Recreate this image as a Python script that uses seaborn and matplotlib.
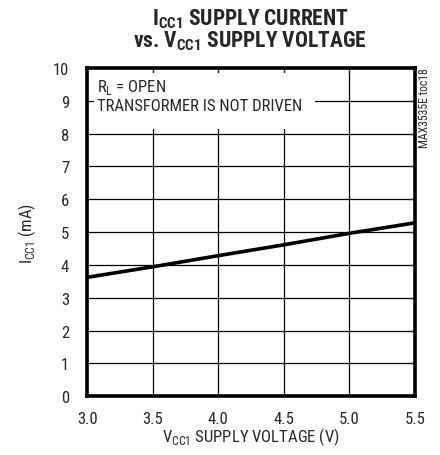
import numpy as np
import pandas as pd
import matplotlib
matplotlib.use("Agg")
import matplotlib.pyplot as plt
import seaborn as sns
from matplotlib import font_manager
from matplotlib.patches import Rectangle

# data
vcc = [3.0, 3.5, 4.0, 4.5, 5.0, 5.5]
icc = [3.62, 3.94, 4.28, 4.61, 4.96, 5.28]
x_ticks = [3.0, 3.5, 4.0, 4.5, 5.0, 5.5]
y_ticks = [0, 1, 2, 3, 4, 5, 6, 7, 8, 9, 10]

sns.set_style("white")

# condensed font, like the datasheet
names = {f.name for f in font_manager.fontManager.ttflist}
fam = "Roboto Condensed" if "Roboto Condensed" in names else "Liberation Sans"
plt.rcParams['font.family'] = [fam, 'DejaVu Sans']
plt.rcParams['mathtext.fontset'] = 'custom'
plt.rcParams['mathtext.rm'] = fam
plt.rcParams['mathtext.bf'] = fam + ':bold'

df = pd.DataFrame({"vcc": vcc, "icc": icc})

fig = plt.figure(figsize=(4.4, 4.56), dpi=100)
ax = fig.add_axes([0.198, 0.129, 0.745, 0.72])

sns.lineplot(data=df, x="vcc", y="icc", ax=ax, color="black", linewidth=2.6, zorder=3)

ax.set_xlim(3.0, 5.5)
ax.set_ylim(0, 10)
ax.set_xticks(x_ticks)
ax.set_xticklabels([f"{v:.1f}" for v in x_ticks])
ax.set_yticks(y_ticks)
ax.grid(True, color="black", linewidth=0.9)
ax.tick_params(axis="both", direction="in", length=5, width=0.9, labelsize=12,
               top=True, right=True)
ax.tick_params(axis="x", pad=10.5)
ax.tick_params(axis="y", pad=13)
for s in ax.spines.values():
    s.set_linewidth(2.6)
    s.set_color("black")

ax.set_xlabel(r"V$_{\mathregular{CC1}}$ SUPPLY VOLTAGE (V)", fontsize=12, labelpad=0)
ax.set_ylabel(r"I$_{\mathregular{CC1}}$ (mA)", fontsize=12, labelpad=11)

# two-line title
fig.text(0.568, 1 - 25 / 456, r"I$_{\mathbf{CC1}}$ SUPPLY CURRENT", ha="center", va="baseline",
         fontsize=15.5, fontweight="bold")
fig.text(0.568, 1 - 47 / 456, r"vs. V$_{\mathbf{CC1}}$ SUPPLY VOLTAGE", ha="center", va="baseline",
         fontsize=15.5, fontweight="bold")

# white panel behind the note (grid hidden there, ticks left visible)
ax.add_patch(Rectangle((3.05, 8.15), 1.69, 1.68, facecolor="white", edgecolor="none",
                       zorder=1))
ax.text(3.075, 9.72, "R$_{\\mathregular{L}}$ = OPEN\nTRANSFORMER IS NOT DRIVEN",
        ha="left", va="top", fontsize=12, linespacing=1.2, zorder=4)

fig.text(0.965, 0.85, "MAX3535E toc18", rotation=90, ha="center", va="top", fontsize=8.5)

fig.savefig("out.png", dpi=100)
